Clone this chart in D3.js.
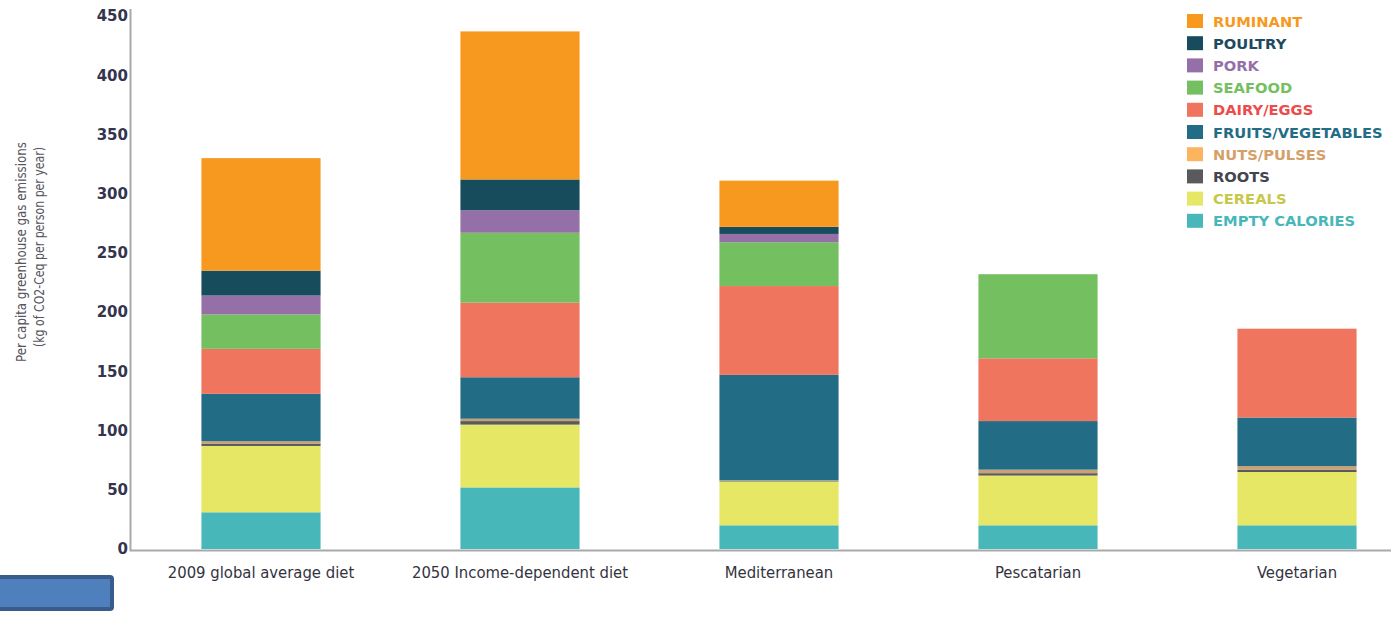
<!DOCTYPE html>
<html>
<head>
<meta charset="utf-8">
<script src="https://cdnjs.cloudflare.com/ajax/libs/d3/7.8.5/d3.min.js"></script>
<style>
  html, body { margin: 0; padding: 0; background: #fff; }
  svg { display: block; }
</style>
</head>
<body>
<svg width="1391" height="625"></svg>
<script>
(() => {

    var width = 1391;
    var height = 625;

    // diets (x categories)
    var diets = ["2009 global average diet", "2050 Income-dependent diet", "Mediterranean", "Pescatarian", "Vegetarian"];

    // series, bottom to top, values in kg CO2-Ceq per person per year
    var emptyCalories = [31, 52, 20, 20, 20];
    var cereals = [56, 53, 37, 42, 45];
    var roots = [2, 3, 0.5, 2, 2];
    var nutsPulses = [2, 2, 0.5, 3, 3];
    var fruitsVegetables = [40, 35, 89, 41, 41];
    var dairyEggs = [38, 63, 75, 53, 75];
    var seafood = [29, 59, 37, 71, 0];
    var pork = [16, 19, 7, 0, 0];
    var poultry = [21, 26, 6, 0, 0];
    var ruminant = [95, 125, 39, 0, 0];

    var yTicks = [0, 50, 100, 150, 200, 250, 300, 350, 400, 450];

    var keys = ["EMPTY CALORIES", "CEREALS", "ROOTS", "NUTS/PULSES", "FRUITS/VEGETABLES",
                "DAIRY/EGGS", "SEAFOOD", "PORK", "POULTRY", "RUMINANT"];
    var series = [emptyCalories, cereals, roots, nutsPulses, fruitsVegetables,
                  dairyEggs, seafood, pork, poultry, ruminant];

    var fill = {
        "RUMINANT": "#f7991f",
        "POULTRY": "#174c5c",
        "PORK": "#9570a8",
        "SEAFOOD": "#74bf60",
        "DAIRY/EGGS": "#ef755e",
        "FRUITS/VEGETABLES": "#236c85",
        "NUTS/PULSES": "#c9a072",
        "ROOTS": "#5a5a5c",
        "CEREALS": "#e6e764",
        "EMPTY CALORIES": "#48b7b9"
    };
    var swatch = Object.assign({}, fill, { "NUTS/PULSES": "#fdb45e" });
    var textColor = {
        "RUMINANT": "#f7991f",
        "POULTRY": "#1d4a5e",
        "PORK": "#9570a8",
        "SEAFOOD": "#74bf60",
        "DAIRY/EGGS": "#ee4b4b",
        "FRUITS/VEGETABLES": "#236c85",
        "NUTS/PULSES": "#d4a06a",
        "ROOTS": "#444450",
        "CEREALS": "#c6c84a",
        "EMPTY CALORIES": "#48b7b9"
    };

    // build table for d3.stack
    var table = diets.map(function (d, i) {
        var row = { diet: d };
        keys.forEach(function (k, j) { row[k] = series[j][i]; });
        return row;
    });

    var stacked = d3.stack().keys(keys)(table);

    var svg = d3.select("svg");

    var x = d3.scaleBand()
        .domain(diets)
        .range([131.5, 1426.5])
        .paddingInner(0.54)
        .paddingOuter(0.27);

    var y = d3.scaleLinear()
        .domain([0, 450])
        .range([549, 16]);

    // bars
    svg.append("g")
        .selectAll("g")
        .data(stacked)
        .enter().append("g")
        .attr("fill", function (d) { return fill[d.key]; })
        .selectAll("rect")
        .data(function (d) { return d; })
        .enter().append("rect")
        .attr("x", function (d) { return x(d.data.diet); })
        .attr("width", x.bandwidth())
        .attr("y", function (d) { return y(d[1]); })
        .attr("height", function (d) { return Math.max(0, y(d[0]) - y(d[1])); });

    // y axis (labels only)
    var yAxis = svg.append("g")
        .attr("transform", "translate(128,0)")
        .call(d3.axisLeft(y).tickValues(yTicks).tickSize(0).tickPadding(0));
    yAxis.select(".domain").remove();
    yAxis.selectAll("text")
        .attr("font-family", "DejaVu Sans, sans-serif")
        .attr("font-weight", "bold")
        .attr("font-size", 15)
        .attr("fill", "#34344e");

    // axis lines
    svg.append("path")
        .attr("d", "M130.5," + (y(450) - 7) + "V" + (y(0) + 1.5) + "H" + width)
        .attr("fill", "none")
        .attr("stroke", "#a9a9a9")
        .attr("stroke-width", 2);

    // x labels
    svg.append("g")
        .selectAll("text")
        .data(diets)
        .enter().append("text")
        .attr("x", function (d) { return x(d) + x.bandwidth() / 2; })
        .attr("y", 578)
        .attr("text-anchor", "middle")
        .attr("font-family", "DejaVu Sans Condensed, Liberation Sans Narrow, sans-serif")
        .attr("font-size", 16.5)
        .attr("fill", "#333340")
        .text(function (d) { return d; });

    // y title
    var title = svg.append("g")
        .attr("transform", "translate(0,252) rotate(-90)")
        .attr("font-family", "DejaVu Sans Condensed, Liberation Sans Narrow, sans-serif")
        .attr("font-size", 14.5)
        .attr("fill", "#555560")
        .attr("text-anchor", "middle");
    title.append("text")
        .attr("x", 0).attr("y", 26)
        .attr("textLength", 220).attr("lengthAdjust", "spacingAndGlyphs")
        .text("Per capita greenhouse gas emissions");
    title.append("text")
        .attr("x", 5).attr("y", 44)
        .attr("textLength", 200).attr("lengthAdjust", "spacingAndGlyphs")
        .text("(kg of CO2-Ceq per person per year)");

    // legend, top to bottom
    var legendKeys = keys.slice().reverse();
    var legend = svg.append("g")
        .selectAll("g")
        .data(legendKeys)
        .enter().append("g")
        .attr("transform", function (d, i) { return "translate(1187," + (21 + i * 22.2) + ")"; });
    legend.append("rect")
        .attr("x", 0).attr("y", -7)
        .attr("width", 16).attr("height", 14)
        .attr("fill", function (d) { return swatch[d]; });
    legend.append("text")
        .attr("x", 26).attr("y", 5.5)
        .attr("font-family", "DejaVu Sans, sans-serif")
        .attr("font-weight", "bold")
        .attr("font-size", 14.7)
        .attr("fill", function (d) { return textColor[d]; })
        .text(function (d) { return d; });

    // stray blue box at bottom left
    svg.append("rect")
        .attr("x", -4).attr("y", 577)
        .attr("width", 116).attr("height", 32)
        .attr("rx", 2)
        .attr("fill", "#4f80bd")
        .attr("stroke", "#385d8a")
        .attr("stroke-width", 4);

})();
</script>
</body>
</html>
